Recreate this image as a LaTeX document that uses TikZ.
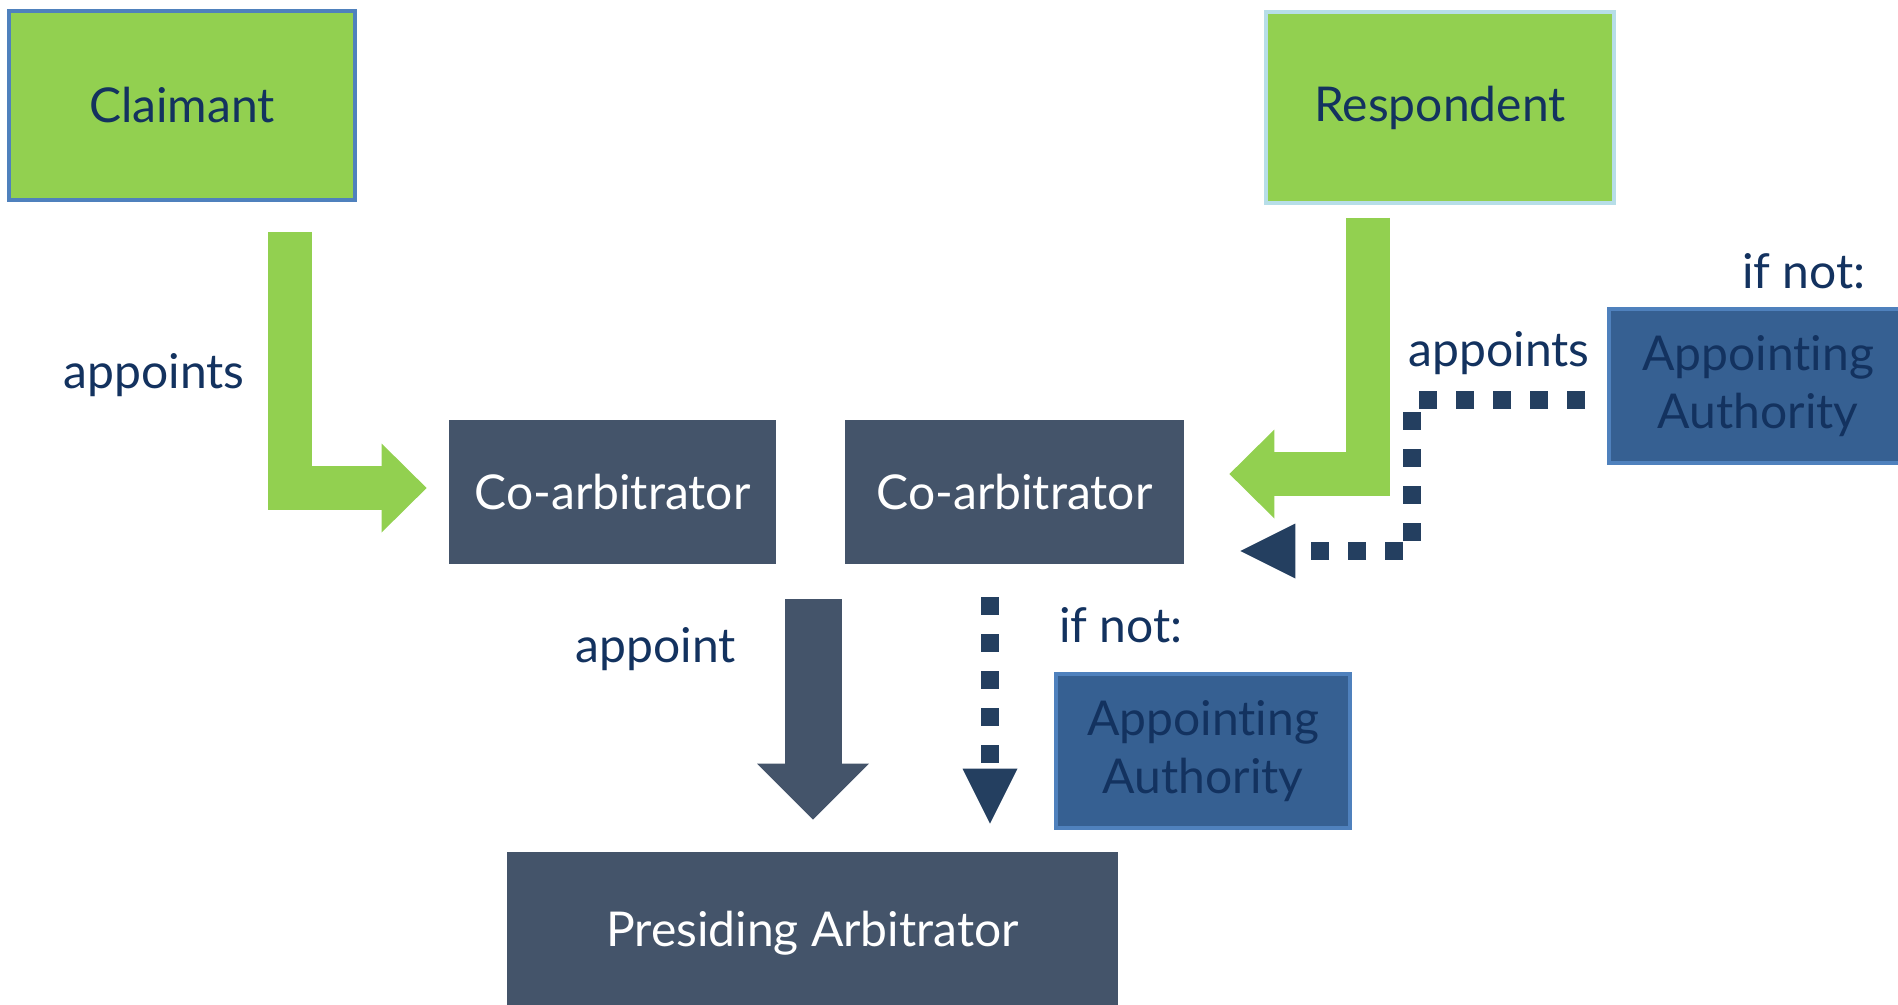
\documentclass[tikz,border=0pt]{standalone}
\usepackage{fontspec}
\setmainfont{Lato}[Ligatures=NoCommon]
\usetikzlibrary{arrows.meta,positioning}
\definecolor{leaf}{HTML}{92D050}
\definecolor{slate}{HTML}{44546A}
\definecolor{navy}{HTML}{13325F}
\definecolor{edgeblue}{HTML}{4F81BD}
\definecolor{paleblue}{HTML}{B7DEE8}
\definecolor{authblue}{HTML}{366092}
\definecolor{dotblue}{HTML}{243F60}
\tikzset{party/.style={fill=leaf,line width=2pt,text=navy,minimum width=173pt,minimum height=94.5pt}}
\tikzset{arb/.style={fill=slate,text=white,minimum height=72pt}}
\tikzset{auth/.style={fill=authblue,draw=edgeblue,line width=2pt,text=navy,align=center,minimum width=149pt,minimum height=77pt}}
\tikzset{lbl/.style={text=navy}}
\tikzset{leafarrow/.style={draw=leaf,line width=22pt,line join=miter,-{Triangle[length=22.5pt,width=44.5pt,line width=0pt]}}}
\tikzset{slatearrow/.style={draw=slate,line width=28.5pt,-{Triangle[length=28pt,width=56pt,line width=0pt]}}}
\tikzset{dotarrow/.style={draw=dotblue,line width=9pt,dash pattern=on 9pt off 9.5pt,-{Triangle[length=27.5pt,width=27.5pt,line width=0pt]}}}

\begin{document}
\begin{tikzpicture}[x=0.5pt,y=-0.5pt,on grid,font=\fontsize{24pt}{29pt}\selectfont]
        \useasboundingbox (0,0) rectangle (1898,1005);
        \node(claimant)[party,draw=edgeblue] at (182,105.5){Claimant};
        \node(respondent)[party,draw=paleblue,minimum width=174pt,minimum height=95.5pt] at (1440,107.5){Respondent};
        \node(coarb1)[arb,minimum width=163.5pt] at (612.5,492){Co-arbitrator};
        \node(coarb2)[arb,minimum width=169.5pt,right=201pt of coarb1]{Co-arbitrator};
        \node(presiding)[arb,minimum width=305.5pt,minimum height=81pt,below right=220.5pt and 100pt of coarb1]{Presiding Arbitrator};
        \node(auth1)[auth,above right=53pt and 371.75pt of coarb2]{Appointing\\Authority};
        \node(auth2)[auth,minimum width=147pt,below right=129.5pt and 94.25pt of coarb2]{Appointing\\Authority};
        % labels
        \node(appL)[lbl] at (154,375){appoints};
        \node(appR)[lbl] at (1499,353){appoints};
        \node(appC)[lbl] at (656,649){appoint};
        \node(ifnot1)[lbl] at (1804,271){if not:};
        \node(ifnot2)[lbl] at (1121,625){if not:};
        % arrow starts
        \coordinate(lstart) at (289.5,232);
        \coordinate(rstart) at (1368,218);
        \coordinate(sstart) at (813,599);
        \coordinate(dstart) at (990,597);
        \coordinate(dbend) at (1412,551);
        \draw[leafarrow,shorten >=11pt] (lstart) |- ([yshift=2pt]coarb1.west);
        \draw[leafarrow,shorten >=22.5pt] (rstart) |- ([yshift=9pt]coarb2.east);
        \draw[slatearrow,shorten >=16pt] (sstart) -- (sstart |- presiding.north);
        \draw[dotarrow,shorten >=14pt] (dstart) -- (dstart |- presiding.north);
        \draw[dotarrow,shorten <=11pt,shorten >=28pt] ([yshift=-7pt]auth1.west) -| (dbend) -- (dbend -| coarb2.east);
      \end{tikzpicture}
\end{document}
